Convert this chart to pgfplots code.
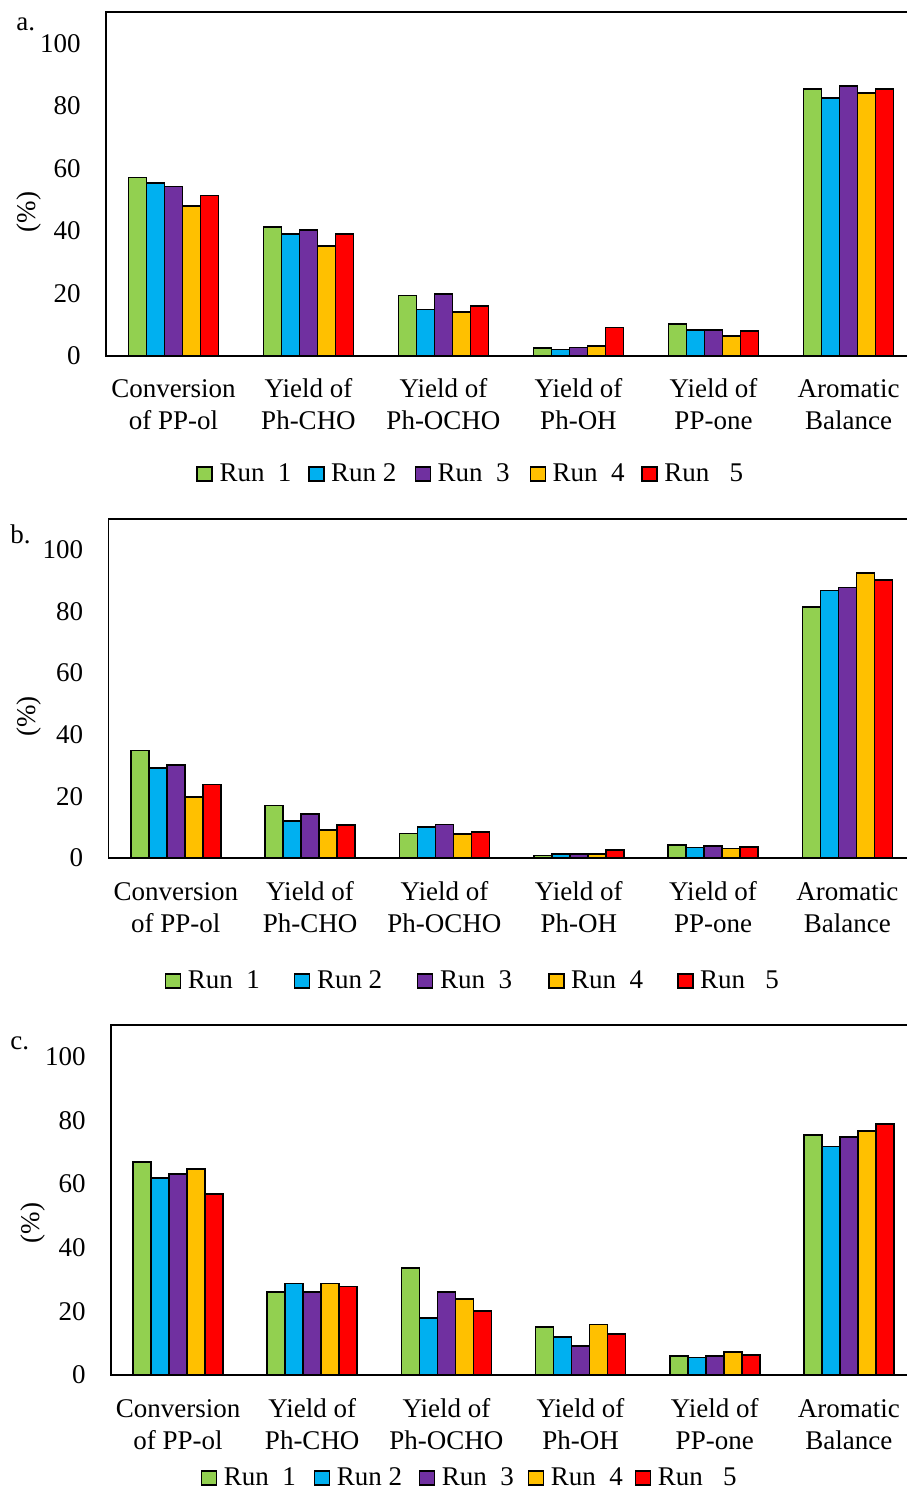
\documentclass[border=0pt]{standalone}
\usepackage{fontspec}
\setmainfont{Liberation Serif}
\usepackage{pgfplots}
\usepackage{pgfplotstable}
\pgfplotsset{compat=1.18}

\definecolor{cg}{RGB}{146,208,80}
\definecolor{cb}{RGB}{0,176,240}
\definecolor{cp}{RGB}{112,48,160}
\definecolor{cy}{RGB}{255,192,0}
\definecolor{cr}{RGB}{255,0,0}

\pgfplotstableread{
x r1 r2 r3 r4 r5
0 57.1 55.4 54.2 48.0 51.3
1 41.2 39.0 40.2 35.1 39.0
2 19.3 14.9 19.9 14.0 16.1
3 2.6 2.1 2.7 3.2 9.1
4 10.3 8.3 8.3 6.5 8.0
5 85.3 82.4 86.3 84.0 85.3
}\dataA
\pgfplotstableread{
x r1 r2 r3 r4 r5
0 34.9 29.1 30.1 19.9 23.9
1 17.0 12.0 14.2 9.0 10.8
2 8.0 10.1 10.9 7.8 8.5
3 0.8 1.3 1.3 1.3 2.5
4 4.2 3.4 3.8 3.1 3.6
5 81.5 86.8 87.8 92.5 90.3
}\dataB
\pgfplotstableread{
x r1 r2 r3 r4 r5
0 66.9 61.9 63.1 64.8 57.0
1 26.0 28.8 26.0 28.8 27.8
2 33.7 17.9 26.0 23.8 20.1
3 15.1 12.0 9.2 15.9 13.0
4 6.0 5.5 6.0 7.3 6.4
5 75.5 71.8 74.9 76.8 78.8
}\dataC

\newcommand{\lent}[2]{\makebox[#1pt][l]{\hspace{3.3pt}#2}}

\pgfplotsset{panel/.style={
  scale only axis, ybar=0pt, bar width=9pt,
  ymin=0, ymax=110, ytick={0,20,...,100},
  xmin=-0.5, xmax=5.5, xtick={0,...,5},
  xticklabels={{Conversion\\of PP-ol},{Yield of\\Ph-CHO},{Yield of\\Ph-OCHO},{Yield of\\Ph-OH},{Yield of\\PP-one},{Aromatic\\Balance}},
  major tick length=0pt,
  axis line style={line width=0.75pt},
  every axis plot/.append style={draw=black, line width=0.85pt},
  /pgf/number format/assume math mode=true,
  yticklabel style={font=\fontsize{13.5}{16}\selectfont, anchor=east, inner sep=0pt, xshift=-12.5pt},
  xticklabel style={font=\fontsize{13.5}{16}\selectfont, align=center, anchor=base, inner sep=0pt, yshift=-36.8pt},
  legend columns=5,
  legend style={draw=none, fill=none, font=\fontsize{13.5}{16}\selectfont, inner sep=0pt, nodes={inner sep=0pt}},
  legend image code/.code={\draw[##1, line width=0.8pt] (0pt,-3.5pt) rectangle (7.5pt,3.5pt);},
}}

\begin{document}
\begin{tikzpicture}
\path[use as bounding box] (0,0) rectangle (453pt,-746pt);
% panel a
\begin{axis}[panel, at={(53pt,-6pt)}, anchor=north west, width=405pt, height=172pt,
  legend style={at={(0.111,-0.343)}, anchor=west}]
\addplot[fill=cg] table[x=x,y=r1]{\dataA};
\addplot[fill=cb] table[x=x,y=r2]{\dataA};
\addplot[fill=cp] table[x=x,y=r3]{\dataA};
\addplot[fill=cy] table[x=x,y=r4]{\dataA};
\addplot[fill=cr] table[x=x,y=r5]{\dataA};
\addlegendentry{\lent{47.5}{Run\ \ 1}}
\addlegendentry{\lent{45.0}{Run 2}}
\addlegendentry{\lent{49.2}{Run\ \ 3}}
\addlegendentry{\lent{47.5}{Run\ \ 4}}
\addlegendentry{\lent{47.0}{Run\ \ \ 5}}
\end{axis}
% panel b
\begin{axis}[panel, at={(54.3pt,-259.5pt)}, anchor=north west, width=403pt, height=169.5pt,
  xticklabel style={yshift=-0.3pt},
  legend style={at={(0.069,-0.363)}, anchor=west}]
\addplot[fill=cg] table[x=x,y=r1]{\dataB};
\addplot[fill=cb] table[x=x,y=r2]{\dataB};
\addplot[fill=cp] table[x=x,y=r3]{\dataB};
\addplot[fill=cy] table[x=x,y=r4]{\dataB};
\addplot[fill=cr] table[x=x,y=r5]{\dataB};
\addlegendentry{\lent{56.3}{Run\ \ 1}}
\addlegendentry{\lent{53.2}{Run 2}}
\addlegendentry{\lent{57.3}{Run\ \ 3}}
\addlegendentry{\lent{56.2}{Run\ \ 4}}
\addlegendentry{\lent{50.0}{Run\ \ \ 5}}
\end{axis}
% panel c
\begin{axis}[panel, at={(55.5pt,-512.5pt)}, anchor=north west, width=402.5pt, height=175pt,
  xticklabel style={yshift=-0.3pt},
  legend style={at={(0.111,-0.294)}, anchor=west}]
\addplot[fill=cg] table[x=x,y=r1]{\dataC};
\addplot[fill=cb] table[x=x,y=r2]{\dataC};
\addplot[fill=cp] table[x=x,y=r3]{\dataC};
\addplot[fill=cy] table[x=x,y=r4]{\dataC};
\addplot[fill=cr] table[x=x,y=r5]{\dataC};
\addlegendentry{\lent{48.2}{Run\ \ 1}}
\addlegendentry{\lent{44.2}{Run 2}}
\addlegendentry{\lent{46.2}{Run\ \ 3}}
\addlegendentry{\lent{45.2}{Run\ \ 4}}
\addlegendentry{\lent{45.0}{Run\ \ \ 5}}
\end{axis}
% labels
\begin{scope}[every node/.style={font=\fontsize{13.5}{16}\selectfont, inner sep=0pt}]
\node[anchor=base west] at (8pt,-15.3pt) {a.};
\node[anchor=base west] at (5pt,-271.7pt) {b.};
\node[anchor=base west] at (5pt,-524.7pt) {c.};
\node[rotate=90] at (14.5pt,-106pt) {(\%)};
\node[rotate=90] at (14.5pt,-358.3pt) {(\%)};
\node[rotate=90] at (16.5pt,-611.5pt) {(\%)};
\end{scope}
\end{tikzpicture}
\end{document}
